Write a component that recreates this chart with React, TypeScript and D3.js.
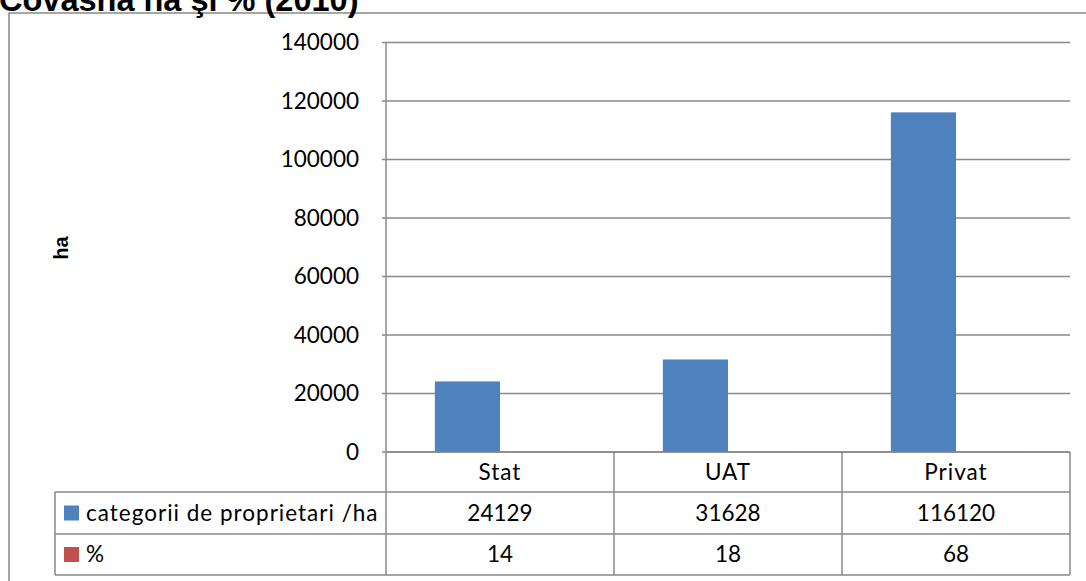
import React from 'react';
import * as d3 from 'd3';

const categories = ['Stat', 'UAT', 'Privat'];
const seriesNames = ['categorii de proprietari /ha', '%'];
const haValues = [24129, 31628, 116120];
const pctValues = [14, 18, 68];
const yTicks = [0, 20000, 40000, 60000, 80000, 100000, 120000, 140000];
const seriesColors = ['#4F81BD', '#C0504D'];

const W = 1086;
const H = 581;
const plot = { left: 386, right: 1070, top: 42.5, bottom: 452 };
const rows = [452, 492, 534, 575];
const legendLeft = 55;
const grid = '#898989';
const font = 'Lato, "Open Sans", sans-serif';

export default function App() {
  const y = d3.scaleLinear().domain([0, 140000]).range([plot.bottom, plot.top]);
  const x0 = d3.scaleBand<string>().domain(categories).range([plot.left, plot.right]).padding(0);
  const x1 = d3
    .scaleBand<string>()
    .domain(seriesNames)
    .range([0, x0.bandwidth()])
    .paddingInner(0)
    .paddingOuter(0.75);

  const series = [haValues, pctValues];

  return (
    <svg width={W} height={H} style={{ position: 'absolute', left: 0, top: 0 }}>
      <rect x={0} y={0} width={W} height={H} fill="#fff" />
      {/* outer chart border, runs off the page right and bottom */}
      <rect x={9} y={13} width={W + 20} height={H + 20} fill="none" stroke={grid} strokeWidth={1.5} />
      <text
        x={-1}
        y={11}
        fontFamily='"Liberation Sans", Arial, sans-serif'
        fontWeight="bold"
        fontSize={32.5}
        fill="#000"
      >
        Covasna ha şi % (2010)
      </text>

      {/* gridlines + y ticks */}
      {yTicks.map((t) => (
        <g key={t}>
          <line x1={plot.left - 4} x2={plot.right} y1={y(t)} y2={y(t)} stroke={grid} strokeWidth={1.5} />
          <text
            x={359}
            y={y(t)}
            dy="0.35em"
            textAnchor="end"
            fontFamily={font}
            fontSize={22.5}
            fill="#000"
          >
            {t}
          </text>
        </g>
      ))}
      <line x1={plot.left} x2={plot.left} y1={plot.top} y2={rows[3]} stroke={grid} strokeWidth={1.5} />

      <text
        transform="translate(68,248) rotate(-90)"
        textAnchor="middle"
        fontFamily='"Liberation Sans", Arial, sans-serif'
        fontWeight="bold"
        fontSize={20}
      >
        ha
      </text>

      {/* bars */}
      {categories.map((c, i) => (
        <g key={c} transform={`translate(${x0(c)},0)`}>
          {seriesNames.map((s, j) => (
            <rect
              key={s}
              x={x1(s)}
              y={y(series[j][i])}
              width={x1.bandwidth()}
              height={plot.bottom - y(series[j][i])}
              fill={seriesColors[j]}
            />
          ))}
        </g>
      ))}

      {/* data table */}
      <g stroke={grid} strokeWidth={1.5} fill="none">
        {rows.map((r, i) => (
          <line key={r} x1={i === 0 ? plot.left : legendLeft} x2={plot.right} y1={r} y2={r} />
        ))}
        <line x1={legendLeft} x2={legendLeft} y1={rows[1]} y2={rows[3]} />
        {categories.map((c) => (
          <line key={c} x1={x0(c) + x0.bandwidth()} x2={x0(c) + x0.bandwidth()} y1={rows[0]} y2={rows[3]} />
        ))}
      </g>
      {categories.map((c) => (
        <text
          key={c}
          x={x0(c) + x0.bandwidth() / 2}
          y={(rows[0] + rows[1]) / 2}
          dy="0.35em"
          textAnchor="middle"
          fontFamily={font}
          fontSize={22.5}
          letterSpacing={1}
        >
          {c}
        </text>
      ))}
      {seriesNames.map((s, j) => {
        const cy = (rows[j + 1] + rows[j + 2]) / 2;
        return (
          <g key={s}>
            <rect x={64} y={cy - 7.5} width={15} height={15} fill={seriesColors[j]} />
            <text x={86} y={cy} dy="0.35em" fontFamily={font} fontSize={22.5} letterSpacing={1}>
              {s}
            </text>
            {categories.map((c, i) => (
              <text
                key={c}
                x={x0(c) + x0.bandwidth() / 2}
                y={cy}
                dy="0.35em"
                textAnchor="middle"
                fontFamily={font}
                fontSize={22.5}
              >
                {series[j][i]}
              </text>
            ))}
          </g>
        );
      })}
    </svg>
  );
}
